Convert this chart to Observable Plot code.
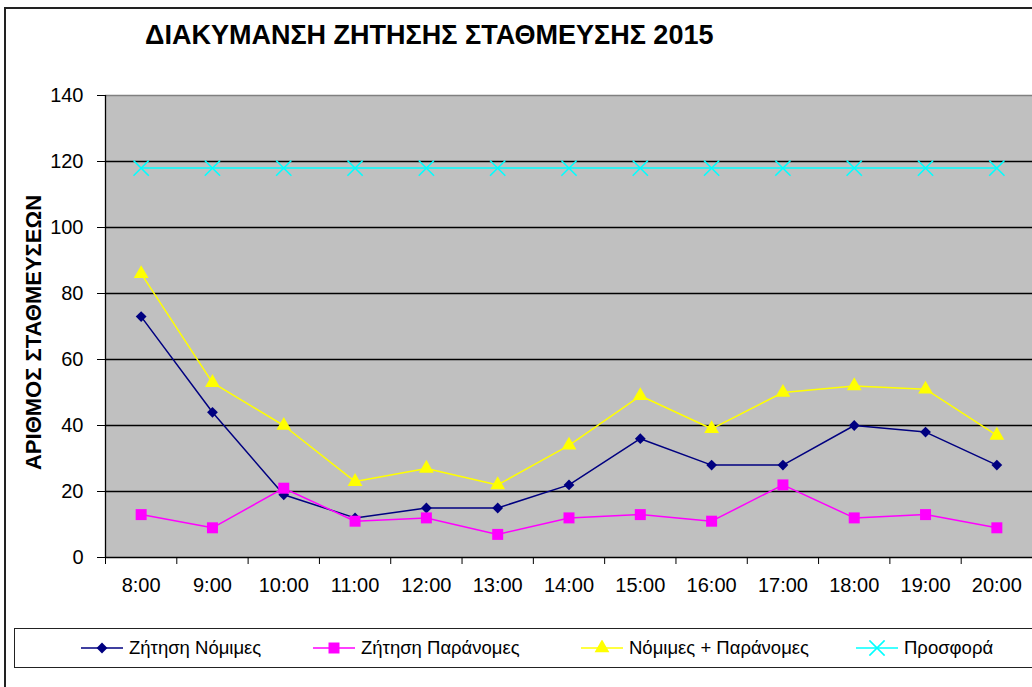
<!DOCTYPE html>
<html><head><meta charset="utf-8">
<script src="https://cdn.jsdelivr.net/npm/d3@7"></script>
<script src="https://cdn.jsdelivr.net/npm/@observablehq/plot@0.6"></script>
<style>
body{margin:0;background:#fff;font-family:Arial,"Liberation Sans",sans-serif;}
#wrap{position:relative;width:1032px;height:687px;overflow:hidden;background:#fff;}
#border{position:absolute;left:4px;top:7px;width:1100px;height:800px;border-left:2px solid #222;border-top:2px solid #222;}
#title{position:absolute;left:145px;top:20px;font-weight:bold;font-size:27px;color:#000;white-space:nowrap;}
#chart{position:absolute;left:0;top:0;}
#legend{position:absolute;left:14px;top:628px;width:1100px;height:38px;border:1.5px solid #222;background:#fff;}
.item{position:absolute;top:0;height:38px;display:flex;align-items:center;font-size:18.5px;color:#000;white-space:nowrap;}
.item svg{margin-right:6px;}
</style></head><body>
<div id="wrap">
  <div id="border"></div>
  <div id="chart"></div>
  <div id="title"></div>
  <div id="legend"></div>
</div>
<script>
const categories = ["8:00","9:00","10:00","11:00","12:00","13:00","14:00","15:00","16:00","17:00","18:00","19:00","20:00"];
const nomimes   = [73, 44, 19, 12, 15, 15, 22, 36, 28, 28, 40, 38, 28];
const paranomes = [13, 9, 21, 11, 12, 7, 12, 13, 11, 22, 12, 13, 9];
const synolo    = [86, 53, 40, 23, 27, 22, 34, 49, 39, 50, 52, 51, 37];
const prosfora  = [118, 118, 118, 118, 118, 118, 118, 118, 118, 118, 118, 118, 118];
const yTicks = [0, 20, 40, 60, 80, 100, 120, 140];
const seriesNames = ["Ζήτηση Νόμιμες", "Ζήτηση Παράνομες", "Νόμιμες + Παράνομες", "Προσφορά"];
const seriesValues = [nomimes, paranomes, synolo, prosfora];
const seriesColors = ["#000080", "#FF00FF", "#FFFF00", "#00FFFF"];
const title = "ΔΙΑΚΥΜΑΝΣΗ ΖΗΤΗΣΗΣ ΣΤΑΘΜΕΥΣΗΣ 2015";
const yLabel = "ΑΡΙΘΜΟΣ ΣΤΑΘΜΕΥΣΕΩΝ";

document.getElementById("title").textContent = title;

const symbolSpecs = [
  {symbol: "square", rotate: 45, r: 4.3, filled: true},
  {symbol: "square", rotate: 0, r: 6.2, filled: true},
  {symbol: "triangle", rotate: 0, r: 5.5, filled: true},
  {symbol: "times", rotate: 0, r: 7.0, filled: false}
];

const rows = seriesNames.map((s, k) => seriesValues[k].map((v, i) => ({series: s, k, idx: i, cat: categories[i], value: v})));

const marks = [
  Plot.frame({fill: "#C0C0C0", stroke: null}),
  Plot.gridY(yTicks.filter(t => t > 0 && t < 140), {stroke: "#000", strokeOpacity: 1, strokeWidth: 1.3}),
  Plot.ruleY([140], {stroke: "#808080", strokeWidth: 1.5}),
  Plot.ruleY([0], {stroke: "#000", strokeWidth: 1.3}),
  Plot.ruleX([0], {stroke: "#000", strokeWidth: 1.3}),
  Plot.axisY({ticks: yTicks, tickSize: 8, tickPadding: 14, fontSize: 20, label: null, stroke: "#000"}),
  Plot.axisX({ticks: d3.range(0, categories.length + 1), tickSize: 7, tickFormat: () => "", label: null, stroke: "#000"}),
  Plot.axisX({ticks: categories.map((c, i) => i + 0.5), tickSize: 0, tickPadding: 20, fontSize: 20, tickFormat: d => categories[Math.floor(d)], label: null}),
  Plot.text([yLabel], {frameAnchor: "left", textAnchor: "middle", rotate: -90, dx: -72, dy: 6, fontSize: 22, fontWeight: "bold", fill: "#000"})
];
rows.forEach((r, k) => {
  const sp = symbolSpecs[k];
  marks.push(Plot.line(r, {x: d => d.idx + 0.5, y: "value", stroke: seriesColors[k], strokeWidth: 1.5}));
  marks.push(Plot.dot(r, {x: d => d.idx + 0.5, y: "value", symbol: sp.symbol, rotate: sp.rotate, r: sp.r,
    fill: sp.filled ? seriesColors[k] : "none", stroke: sp.filled ? "none" : seriesColors[k], strokeWidth: 1.6}));
});

const chart = Plot.plot({
  width: 1032, height: 687,
  marginLeft: 105, marginRight: 0, marginTop: 95, marginBottom: 130,
  x: {type: "linear", domain: [0, categories.length], axis: null},
  y: {domain: [0, 140], axis: null},
  style: {fontFamily: "Arial, 'Liberation Sans', sans-serif", color: "#000", background: "transparent"},
  marks
});
document.getElementById("chart").appendChild(chart);

// legend
const legendX = [66, 298, 566, 841];
const typeMap = {square: d3.symbolSquare, triangle: d3.symbolTriangle, times: d3.symbolTimes};
const leg = document.getElementById("legend");
seriesNames.forEach((s, k) => {
  const it = document.createElement("div");
  it.className = "item";
  it.style.left = legendX[k] + "px";
  const sp = symbolSpecs[k];
  const path = d3.symbol(typeMap[sp.symbol], Math.PI * sp.r * sp.r)();
  it.innerHTML = `<svg width="42" height="16" viewBox="0 0 42 16">
    <line x1="0" y1="8" x2="42" y2="8" stroke="${seriesColors[k]}" stroke-width="1.6"/>
    <path d="${path}" transform="translate(21,8) rotate(${sp.rotate})" fill="${sp.filled ? seriesColors[k] : "none"}" stroke="${sp.filled ? "none" : seriesColors[k]}" stroke-width="1.6"/>
  </svg><span>${s}</span>`;
  leg.appendChild(it);
});
</script>
</body></html>
